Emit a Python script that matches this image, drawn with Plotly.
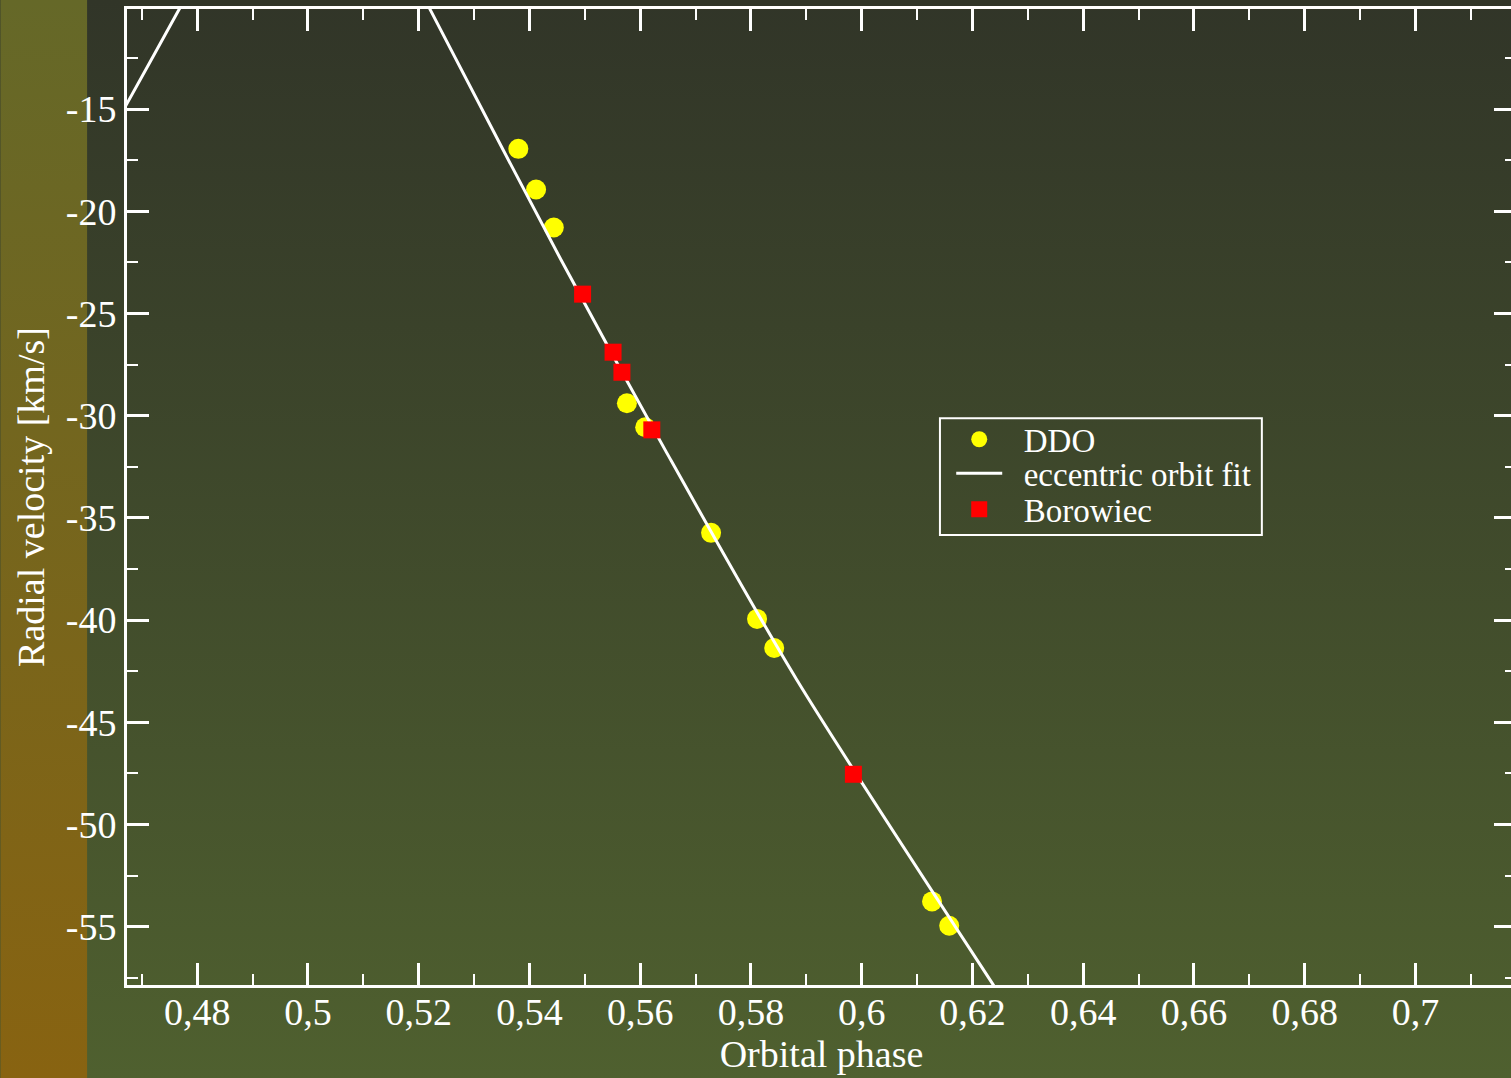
import base64
import plotly.graph_objects as go

# ---------------- data ----------------
ddo_phase = [0.5380, 0.5412, 0.5444, 0.5576, 0.5609, 0.5728, 0.5811, 0.5842, 0.6127, 0.6158]
ddo_rv = [-16.94, -18.93, -20.79, -29.39, -30.56, -35.73, -39.94, -41.36, -53.76, -54.95]

bor_phase = [0.5496, 0.5551, 0.5567, 0.5621, 0.5985]
bor_rv = [-24.05, -26.89, -27.87, -30.69, -47.54]

fit_phase = [0.4665, 0.4673, 0.4767, 0.4777, None,
             0.5212, 0.5221, 0.5457, 0.5645, 0.5883, 0.6237, 0.6246]
fit_rv = [-15.13, -14.74, -10.14, -9.65, None,
          -9.65, -10.14, -22.37, -31.67, -42.93, -57.82, -58.20]

x_ticks = [0.48, 0.50, 0.52, 0.54, 0.56, 0.58, 0.60, 0.62, 0.64, 0.66, 0.68, 0.70]
x_ticklabels = ["0,48", "0,5", "0,52", "0,54", "0,56", "0,58", "0,6", "0,62", "0,64", "0,66", "0,68", "0,7"]
y_ticks = [-55, -50, -45, -40, -35, -30, -25, -20, -15]
y_ticklabels = ["-55", "-50", "-45", "-40", "-35", "-30", "-25", "-20", "-15"]

legend_names = ["DDO", "eccentric orbit fit", "Borowiec"]

# ---------------- layout constants ----------------
W, H = 1519, 1078          # right frame edge lies just outside the 1511px window
ML, MR, MT, MB = 127, 0, 9, 93
FONT = "Liberation Serif"
pw = W - ML - MR
ph = H - MT - MB


def px_x(p):
    return (p - ML) / pw


def px_y(p):
    return 1 - (p - MT) / ph


svg = f'''<svg xmlns="http://www.w3.org/2000/svg" width="{W}" height="{H}" viewBox="0 0 {W} {H}" preserveAspectRatio="none">
<defs>
<linearGradient id="m" x1="0" y1="0" x2="0" y2="1"><stop offset="0" stop-color="#313528"/><stop offset="1" stop-color="#4f602f"/></linearGradient>
<linearGradient id="s" x1="0" y1="0" x2="0" y2="1"><stop offset="0" stop-color="#656828"/><stop offset="1" stop-color="#886311"/></linearGradient>
</defs>
<rect x="0" y="0" width="{W}" height="{H}" fill="url(#m)"/>
<rect x="0" y="0" width="87" height="{H}" fill="url(#s)"/>
</svg>'''
bg_src = "data:image/svg+xml;base64," + base64.b64encode(svg.encode()).decode()

pad = "\u00a0\u00a0"

fig = go.Figure()
fig.add_trace(go.Scatter(
    x=ddo_phase, y=ddo_rv, mode="markers", name=pad + legend_names[0], legend="legend",
    marker=dict(symbol="circle", size=20, color="#ffff00", line=dict(width=0)),
))
fig.add_trace(go.Scatter(
    x=fit_phase, y=fit_rv, mode="lines", name=pad + legend_names[1], legend="legend2",
    line=dict(color="white", width=3, shape="spline", smoothing=0.8), connectgaps=False,
))
fig.add_trace(go.Scatter(
    x=bor_phase, y=bor_rv, mode="markers", name=pad + legend_names[2], legend="legend3",
    marker=dict(symbol="square", size=17, color="#ff0000", line=dict(width=0)),
))

axis_common = dict(
    showline=True, linewidth=3, linecolor="white", mirror="ticks",
    ticks="inside", ticklen=22, tickwidth=3, tickcolor="white",
    showgrid=False, zeroline=False,
    tickfont=dict(family=FONT, size=38, color="white"),
)

fig.update_xaxes(
    range=[0.46733, 0.71815], tickmode="array", tickvals=x_ticks, ticktext=x_ticklabels,
    minor=dict(ticks="inside", ticklen=11, tickwidth=2, tickcolor="white", dtick=0.01, tick0=0.0),
    ticklabelstandoff=-9,
    title=dict(text="Orbital phase", font=dict(family=FONT, size=38, color="white"), standoff=4),
    **axis_common,
)
fig.update_yaxes(
    range=[-57.85, -10.1], tickmode="array", tickvals=y_ticks, ticktext=y_ticklabels,
    minor=dict(ticks="inside", ticklen=11, tickwidth=2, tickcolor="white", dtick=2.5, tick0=0.0),
    title=dict(text="Radial velocity [km/s]", font=dict(family=FONT, size=38, color="white"), standoff=10),
    **axis_common,
)

leg_common = dict(
    xanchor="left", yanchor="middle",
    bgcolor="rgba(0,0,0,0)", borderwidth=0,
    font=dict(family=FONT, size=33, color="white"),
    itemwidth=46,
)
leg_x = px_x(953)

fig.update_layout(
    width=W, height=H,
    margin=dict(l=ML, r=MR, t=MT, b=MB, pad=0),
    paper_bgcolor="#3f4a2d",
    plot_bgcolor="rgba(0,0,0,0)",
    font=dict(family=FONT, color="white"),
    showlegend=True,
    legend=dict(x=leg_x, y=px_y(439.3), **leg_common),
    legend2=dict(x=leg_x, y=px_y(473.3), **leg_common),
    legend3=dict(x=leg_x, y=px_y(509.3), **leg_common),
    shapes=[dict(
        type="rect", xref="paper", yref="paper",
        x0=px_x(941.7), x1=px_x(1264.3), y0=px_y(535), y1=px_y(418.3),
        line=dict(color="white", width=2), fillcolor="rgba(0,0,0,0)", layer="above",
    )],
    images=[dict(
        source=bg_src, xref="paper", yref="paper",
        x=-ML / pw, y=1 + MT / ph, sizex=W / pw, sizey=H / ph,
        xanchor="left", yanchor="top", sizing="stretch", layer="below",
    )],
)

fig.write_html(
    "out.html",
    config={"displayModeBar": False},
    post_script="document.body.style.margin='0';document.body.style.overflow='hidden';",
)
